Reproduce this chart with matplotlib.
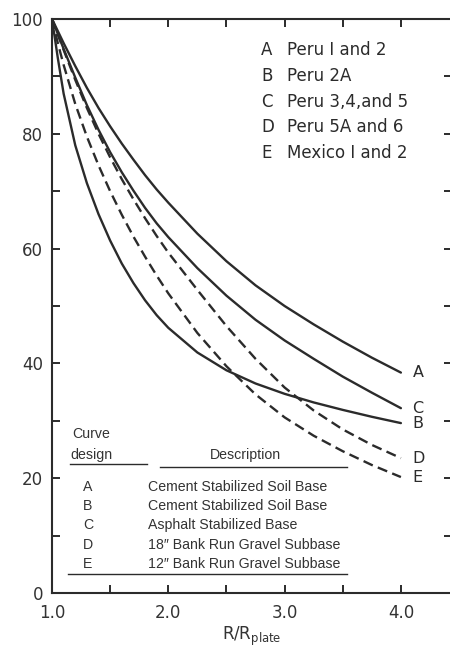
import matplotlib
matplotlib.use("Agg")
import matplotlib.pyplot as plt
from matplotlib.lines import Line2D

# ---- data ----
x = [1.0, 1.05, 1.1, 1.2, 1.3, 1.4, 1.5, 1.6, 1.7, 1.8, 1.9, 2.0,
     2.25, 2.5, 2.75, 3.0, 3.25, 3.5, 3.75, 4.0]
curve_A = [100, 97.9, 95.8, 91.8, 88.0, 84.5, 81.3, 78.3, 75.5, 72.8, 70.3, 68.0,
           62.6, 57.8, 53.6, 50.0, 46.8, 43.8, 41.0, 38.4]
curve_B = [100, 93.2, 87.0, 78.0, 71.4, 66.0, 61.4, 57.4, 54.0, 51.0, 48.4, 46.2,
           41.9, 38.8, 36.5, 34.7, 33.2, 31.9, 30.7, 29.6]
curve_C = [100, 97.4, 94.8, 89.8, 85.0, 80.7, 76.8, 73.3, 70.1, 67.1, 64.4, 62.0,
           56.6, 51.8, 47.6, 44.0, 40.8, 37.7, 34.9, 32.2]
curve_D = [100, 97.3, 94.6, 89.4, 84.5, 80.0, 75.9, 72.1, 68.6, 65.3, 62.2, 59.3,
           52.8, 46.5, 40.8, 35.8, 31.8, 28.5, 25.8, 23.5]
curve_E = [100, 95.8, 92.0, 85.2, 79.5, 74.5, 70.0, 65.9, 62.1, 58.6, 55.3, 52.2,
           45.3, 39.5, 34.6, 30.6, 27.4, 24.7, 22.3, 20.2]

curve_names = ["A", "B", "C", "D", "E"]
curve_styles = ["solid", "solid", "solid", "dashed", "dashed"]
sites = ["Peru I and 2", "Peru 2A", "Peru 3,4,and 5", "Peru 5A and 6", "Mexico I and 2"]
descriptions = ["Cement Stabilized Soil Base", "Cement Stabilized Soil Base",
                "Asphalt Stabilized Base", "18\u2033 Bank Run Gravel Subbase",
                "12\u2033 Bank Run Gravel Subbase"]
x_ticks_major = [1.0, 2.0, 3.0, 4.0]
x_ticks_minor = [1.5, 2.5, 3.5]
y_ticks_major = [0, 20, 40, 60, 80, 100]
y_ticks_minor = [10, 30, 50, 70, 90]

ink = "#2b2b2b"
W, H = 450, 652
fig = plt.figure(figsize=(W / 100, H / 100), dpi=100)
fig.patch.set_facecolor("white")

left_px, right_px, top_px, bot_px = 52, 452, 19, 593
ax = fig.add_axes([left_px / W, 1 - bot_px / H, (right_px - left_px) / W, (bot_px - top_px) / H])
ax.set_xlim(1.0, 1.0 + (right_px - left_px) / 116.3)
ax.set_ylim(0, 100)

series = [curve_A, curve_B, curve_C, curve_D, curve_E]
for name, ys, st in zip(curve_names, series, curve_styles):
    if st == "solid":
        ax.plot(x, ys, color=ink, lw=1.7, solid_joinstyle="round", solid_capstyle="round")
    else:
        ax.plot(x, ys, color=ink, lw=1.7, dashes=(4.3, 2.3), dash_joinstyle="round")
    ax.text(x[-1] + 0.1, ys[-1], name, fontsize=11.5, color=ink, va="center", ha="left",
            family="DejaVu Sans")

for sp in ax.spines.values():
    sp.set_color(ink)
    sp.set_linewidth(1.5)

ax.set_xticks(x_ticks_major)
ax.set_xticks(x_ticks_minor, minor=True)
ax.set_yticks(y_ticks_major)
ax.set_yticks(y_ticks_minor, minor=True)
ax.set_xticklabels([f"{v:.1f}" for v in x_ticks_major])
ax.set_yticklabels([str(v) for v in y_ticks_major])
ax.tick_params(axis="both", which="both", direction="in", length=6, width=1.4, color=ink,
               top=True, right=True, labelsize=12, labelcolor="#333333")
ax.tick_params(axis="x", which="major", pad=8)
ax.tick_params(axis="y", which="major", pad=6.5)
for lab in ax.get_xticklabels() + ax.get_yticklabels():
    lab.set_family("DejaVu Sans")

ax.set_xlabel("R/R$_{\\mathrm{plate}}$", fontsize=12, color="#333333", labelpad=2)

# site legend (top right)
for i, (name, site) in enumerate(zip(curve_names, sites)):
    yy = 1 - (50 + i * 25.8) / H
    fig.text(261 / W, yy, name, fontsize=12, color=ink, va="center", ha="left", family="DejaVu Sans")
    fig.text(287 / W, yy, site, fontsize=12, color=ink, va="center", ha="left", family="DejaVu Sans")

# description table (bottom)
tfont = dict(fontsize=10.2, color="#333333", family="Liberation Sans")
fig.text(72 / W, 1 - 434 / H, "Curve", va="center", ha="left", **tfont)
fig.text(70 / W, 1 - 455 / H, "design", va="center", ha="left", **tfont)
fig.text(245 / W, 1 - 455 / H, "Description", va="center", ha="center", **tfont)
fig.add_artist(Line2D([70 / W, 147 / W], [1 - 464 / H] * 2, color=ink, lw=1.0))
fig.add_artist(Line2D([160 / W, 347 / W], [1 - 467 / H] * 2, color=ink, lw=1.0))
for i, (name, desc) in enumerate(zip(curve_names, descriptions)):
    yy = 1 - (487 + i * 19.2) / H
    fig.text(88 / W, yy, name, va="center", ha="center", **tfont)
    fig.text(148 / W, yy, desc, va="center", ha="left", **tfont)
fig.add_artist(Line2D([68 / W, 347 / W], [1 - 574 / H] * 2, color=ink, lw=1.0))

fig.savefig("out.png", dpi=100, facecolor="white")
